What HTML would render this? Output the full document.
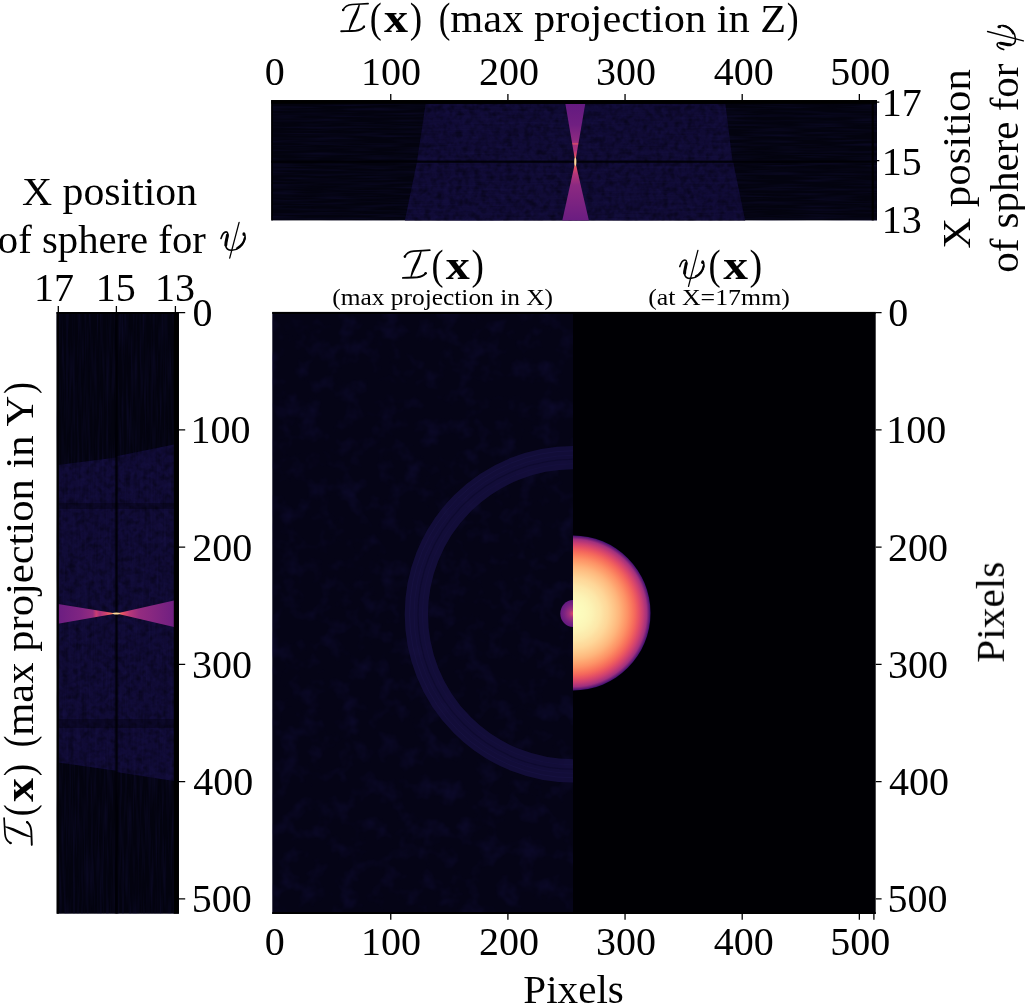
<!DOCTYPE html>
<html><head><meta charset="utf-8"><style>
html,body{margin:0;padding:0;background:#fff;overflow:hidden}
svg{display:block}
</style></head><body>
<svg width="1025" height="1003" viewBox="0 0 1025 1003">
<rect width="1025" height="1003" fill="#fff"/>
<defs><filter id="nzh" x="0" y="0" width="100%" height="100%" color-interpolation-filters="sRGB"><feTurbulence type="fractalNoise" baseFrequency="0.02 0.45" numOctaves="2" seed="3"/><feColorMatrix type="matrix" values="0 0 0 0 0.100  0 0 0 0 0.080  0 0 0 0 0.300  1.6 0 0 0 -0.62"/></filter><filter id="nzv" x="0" y="0" width="100%" height="100%" color-interpolation-filters="sRGB"><feTurbulence type="fractalNoise" baseFrequency="0.45 0.02" numOctaves="2" seed="5"/><feColorMatrix type="matrix" values="0 0 0 0 0.100  0 0 0 0 0.080  0 0 0 0 0.300  1.6 0 0 0 -0.62"/></filter><filter id="nzm" x="0" y="0" width="100%" height="100%" color-interpolation-filters="sRGB"><feTurbulence type="fractalNoise" baseFrequency="0.05 0.05" numOctaves="3" seed="7"/><feColorMatrix type="matrix" values="0 0 0 0 0.100  0 0 0 0 0.080  0 0 0 0 0.320  2.2 0 0 0 -1.05"/></filter><filter id="nzb" x="0" y="0" width="100%" height="100%" color-interpolation-filters="sRGB"><feTurbulence type="fractalNoise" baseFrequency="0.18 0.18" numOctaves="2" seed="11"/><feColorMatrix type="matrix" values="0 0 0 0 0.130  0 0 0 0 0.100  0 0 0 0 0.360  2.4 0 0 0 -1.0"/></filter><filter id="nzd" x="0" y="0" width="100%" height="100%" color-interpolation-filters="sRGB"><feTurbulence type="fractalNoise" baseFrequency="0.16 0.16" numOctaves="2" seed="13"/><feColorMatrix type="matrix" values="0 0 0 0 0.000  0 0 0 0 0.000  0 0 0 0 0.020  2.4 0 0 0 -1.0"/></filter>
<radialGradient id="sph" cx="573" cy="613" r="77.6" gradientUnits="userSpaceOnUse"><stop offset="0.000" stop-color="#fcfdbf"/>
<stop offset="0.050" stop-color="#fcfdbf"/>
<stop offset="0.100" stop-color="#fcfbbd"/>
<stop offset="0.150" stop-color="#fcf9bb"/>
<stop offset="0.200" stop-color="#fcf6b8"/>
<stop offset="0.250" stop-color="#fcf2b4"/>
<stop offset="0.300" stop-color="#fcecae"/>
<stop offset="0.350" stop-color="#fde7a9"/>
<stop offset="0.400" stop-color="#fddea0"/>
<stop offset="0.450" stop-color="#fed799"/>
<stop offset="0.500" stop-color="#fecc8f"/>
<stop offset="0.550" stop-color="#fec185"/>
<stop offset="0.600" stop-color="#feb47b"/>
<stop offset="0.650" stop-color="#fea36f"/>
<stop offset="0.700" stop-color="#fd9266"/>
<stop offset="0.750" stop-color="#fa7d5e"/>
<stop offset="0.800" stop-color="#f4675c"/>
<stop offset="0.850" stop-color="#e55064"/>
<stop offset="0.900" stop-color="#ca3e72"/>
<stop offset="0.950" stop-color="#a1307e"/>
<stop offset="1.000" stop-color="#3b0f70"/></radialGradient>
<radialGradient id="spot" cx="573" cy="613.5" r="13" gradientUnits="userSpaceOnUse">
 <stop offset="0" stop-color="#de4968"/><stop offset="0.3" stop-color="#a1307e"/><stop offset="0.7" stop-color="#782281"/><stop offset="1" stop-color="#641a80"/></radialGradient>
<linearGradient id="bowv" x1="0" y1="104" x2="0" y2="220" gradientUnits="userSpaceOnUse">
 <stop offset="0" stop-color="#701f81"/><stop offset="0.35" stop-color="#942c80"/><stop offset="0.45" stop-color="#ca3e72"/><stop offset="0.5" stop-color="#fde7a9"/><stop offset="0.55" stop-color="#ca3e72"/><stop offset="0.65" stop-color="#942c80"/><stop offset="1" stop-color="#701f81"/></linearGradient>
<linearGradient id="bowh" x1="58" y1="0" x2="174" y2="0" gradientUnits="userSpaceOnUse">
 <stop offset="0" stop-color="#701f81"/><stop offset="0.3" stop-color="#942c80"/><stop offset="0.45" stop-color="#de4968"/><stop offset="0.5" stop-color="#fde7a9"/><stop offset="0.55" stop-color="#de4968"/><stop offset="0.7" stop-color="#942c80"/><stop offset="1" stop-color="#701f81"/></linearGradient>
<linearGradient id="bowv2" x1="0" y1="104" x2="0" y2="220" gradientUnits="userSpaceOnUse"><stop offset="0.000" stop-color="#641a80"/><stop offset="0.180" stop-color="#701f81"/><stop offset="0.310" stop-color="#8c2981"/><stop offset="0.335" stop-color="#a1307e"/><stop offset="0.343" stop-color="#e44f64"/><stop offset="0.355" stop-color="#a1307e"/><stop offset="0.400" stop-color="#aa337d"/><stop offset="0.440" stop-color="#de4968"/><stop offset="0.475" stop-color="#fe9f6d"/><stop offset="0.497" stop-color="#fcf0b2"/><stop offset="0.520" stop-color="#fe9f6d"/><stop offset="0.550" stop-color="#e44f64"/><stop offset="0.600" stop-color="#b73779"/><stop offset="0.700" stop-color="#8c2981"/><stop offset="1.000" stop-color="#6b1d81"/></linearGradient><linearGradient id="bowh2" x1="58" y1="0" x2="174" y2="0" gradientUnits="userSpaceOnUse"><stop offset="0.000" stop-color="#6b1d81"/><stop offset="0.200" stop-color="#802582"/><stop offset="0.300" stop-color="#942c80"/><stop offset="0.330" stop-color="#ca3e72"/><stop offset="0.360" stop-color="#aa337d"/><stop offset="0.420" stop-color="#d6456c"/><stop offset="0.460" stop-color="#f9795d"/><stop offset="0.490" stop-color="#fecf92"/><stop offset="0.500" stop-color="#fcf4b6"/><stop offset="0.520" stop-color="#fe9f6d"/><stop offset="0.560" stop-color="#e44f64"/><stop offset="0.620" stop-color="#b73779"/><stop offset="0.700" stop-color="#942c80"/><stop offset="1.000" stop-color="#701f81"/></linearGradient><g id="psi" fill="none" stroke="#000" stroke-linecap="round"><path d="M0.3,-11.8 C1.6,-16 3.6,-18.4 5.4,-18.4 C7.6,-18.4 7.4,-15.2 6.5,-12.2 C5.6,-9.2 4.8,-6.8 5.0,-4.6 C5.4,-1.4 8,0 11,0 C17,0 21.8,-4.5 23.8,-10 C24.6,-12.5 24.6,-14.8 23.6,-16.4" stroke-width="1.6"/><path d="M16.5,-2.2 C20.5,-4.3 23.3,-8 24.1,-12.3" stroke-width="2.1"/><path d="M6.7,-15 C6.3,-11.5 5,-8.5 5.1,-5.2" stroke-width="3.0"/><path d="M18.4,-28 L9.0,7.9" stroke-width="1.3"/><ellipse cx="23.2" cy="-16.2" rx="1.5" ry="1.9" fill="#000" stroke="none"/></g><g id="calI"><path d="M2.3,-21.8 C4,-25.6 7,-27.2 11.5,-27.5 C17,-27.8 22,-28.1 27.4,-28.4" fill="none" stroke="#000" stroke-width="1.7" stroke-linecap="round"/><circle cx="2.5" cy="-22.0" r="1.25" fill="#000"/><path d="M18.33,-27.98 L17.58,-26.38 L16.87,-24.75 L16.15,-23.13 L15.41,-21.52 L14.65,-19.91 L13.87,-18.32 L13.08,-16.72 L12.30,-15.13 L11.54,-13.52 L10.84,-11.90 L10.19,-10.25 L9.61,-8.57 L9.11,-6.87 L8.68,-5.13 L8.31,-3.37 L8.03,-1.58 L8.97,-1.22 L9.72,-2.82 L10.43,-4.45 L11.15,-6.07 L11.89,-7.68 L12.65,-9.29 L13.43,-10.88 L14.22,-12.48 L15.00,-14.07 L15.76,-15.68 L16.46,-17.30 L17.11,-18.95 L17.69,-20.63 L18.19,-22.33 L18.62,-24.07 L18.99,-25.83 L19.27,-27.62Z" fill="#000"/><path d="M0.5,-0.7 C6,-0.9 11,-1.0 15,-1.3 C19,-1.7 21.6,-3.1 23.4,-5.4" fill="none" stroke="#000" stroke-width="1.9" stroke-linecap="round"/><circle cx="23.2" cy="-5.3" r="1.2" fill="#000"/></g></defs>
<rect x="271.3" y="100.1" width="605.7" height="120.3" fill="#03030f"/>
<polygon points="425.6,104 725.4,104 732.6,161.6 417.0,161.6" fill="#100b34"/>
<polygon points="417.0,161.6 733.1,161.6 745.2,220.4 404.9,220.4" fill="#100b34"/>
<clipPath id="cbt"><polygon points="425.6,104 725.4,104 732.6,161.6 417.0,161.6"/><polygon points="417.0,161.6 733.1,161.6 745.2,220.4 404.9,220.4"/></clipPath>
<g clip-path="url(#cbt)"><rect x="400" y="104" width="350" height="117" filter="url(#nzb)" opacity="0.2"/><rect x="400" y="104" width="350" height="117" filter="url(#nzd)" opacity="0.45"/></g>
<rect x="271.3" y="104.0" width="605.7" height="116.4" filter="url(#nzh)" opacity="0.4"/>
<rect x="271.3" y="160.6" width="605.7" height="2.2" fill="#000004" opacity="0.85"/>
<rect x="271.3" y="100.1" width="605.7" height="3.6" fill="#000000"/>
<polygon points="565.4,104 585.2,104 575.3,161.7" fill="url(#bowv2)"/>
<polygon points="575.3,161.7 588.9,220.4 562.3,220.4" fill="url(#bowv2)"/>
<ellipse cx="575.3" cy="161.7" rx="1.1" ry="4" fill="#fed89a"/>
<rect x="871.7" y="100.1" width="2.1" height="120.3" fill="#000"/>
<rect x="271.3" y="100.1" width="1.5" height="120.3" fill="#000"/>
<rect x="56.7" y="312.0" width="122.2" height="601.7" fill="#03030f"/>
<polygon points="58,465 116.4,457.6 116.4,770.8 58,762.5" fill="#100b34"/>
<polygon points="116.4,456.2 174,444.6 174,781 116.4,772" fill="#100b34"/>
<clipPath id="cbl"><polygon points="58,465 116.4,457.6 116.4,770.8 58,762.5"/><polygon points="116.4,456.2 174,444.6 174,781 116.4,772"/></clipPath>
<g clip-path="url(#cbl)"><rect x="56" y="440" width="120" height="345" filter="url(#nzb)" opacity="0.2"/><rect x="56" y="440" width="120" height="345" filter="url(#nzd)" opacity="0.45"/></g>
<rect x="56.7" y="312.0" width="122.2" height="601.7" filter="url(#nzv)" opacity="0.4"/>
<rect x="115.4" y="312" width="2.2" height="601.7" fill="#000004" opacity="0.7"/>
<rect x="114.6" y="312" width="3.8" height="601.7" fill="#000004" opacity="0.25"/>
<rect x="58" y="503" width="116" height="6" fill="#000004" opacity="0.3"/>
<rect x="58" y="719" width="116" height="9" fill="#000004" opacity="0.3"/>
<polygon points="58,603.9 116.3,613.5 58,623.7" fill="url(#bowh2)"/>
<polygon points="174,600.5 116.3,613.5 174,627.1" fill="url(#bowh2)"/>
<ellipse cx="116.3" cy="613.5" rx="3.5" ry="1.1" fill="#fed89a"/>
<rect x="173.8" y="312" width="5.1" height="601.7" fill="#000"/>
<rect x="56.7" y="312" width="2.2" height="601.7" fill="#000"/>
<rect x="56.7" y="312" width="122.2" height="2" fill="#000"/>
<rect x="272.3" y="312" width="300.7" height="602" fill="#050416"/>
<rect x="272.3" y="312" width="300.7" height="602" filter="url(#nzm)" opacity="0.35"/>
<path d="M573,457.65 A156.65,156.65 0 0 0 573,770.95" fill="none" stroke="#150f3e" stroke-width="23.30" opacity="0.85"/>
<path d="M573,450.80 A163.50,163.50 0 0 0 573,777.80" fill="none" stroke="#1a1348" stroke-width="1.00" opacity="0.50"/>
<path d="M573,455.30 A159.00,159.00 0 0 0 573,773.30" fill="none" stroke="#1a1348" stroke-width="0.80" opacity="0.45"/>
<path d="M573,459.30 A155.00,155.00 0 0 0 573,769.30" fill="none" stroke="#0a0826" stroke-width="1.10" opacity="0.50"/>
<path d="M573,463.80 A150.50,150.50 0 0 0 573,764.80" fill="none" stroke="#1a1348" stroke-width="0.80" opacity="0.40"/>
<path d="M573,600 A12.7,13.5 0 0 0 573,627 Z" fill="url(#spot)"/>
<rect x="573" y="312" width="302.7" height="602" fill="#000004"/>
<path d="M573,535.4 A77.6,77.6 0 0 1 573,690.6 Z" fill="url(#sph)"/>
<rect x="272.3" y="311.9" width="603.4" height="2.1" fill="#000"/>
<rect x="272.3" y="912" width="603.4" height="2" fill="#000"/>
<path d="M178.9,312.70H185.2 M875.7,312.70H881.6 M390.75,94V100.1 M390.75,914V919.7 M178.9,429.95H185.2 M875.7,429.95H881.6 M507.90,94V100.1 M507.90,914V919.7 M178.9,547.20H185.2 M875.7,547.20H881.6 M625.05,94V100.1 M625.05,914V919.7 M178.9,664.45H185.2 M875.7,664.45H881.6 M742.20,94V100.1 M742.20,914V919.7 M178.9,781.70H185.2 M875.7,781.70H881.6 M859.35,94V100.1 M859.35,914V919.7 M178.9,898.95H185.2 M875.7,898.95H881.6 M873.9,914V919.7 M877,102.10H879.3 M877,160.60H879.3 M58.30,306V312 M116.40,306V312 M175.40,306V312" stroke="#000" stroke-width="1.3" fill="none"/>
<g style="font-family:'Liberation Serif',serif" fill="#000" opacity="0.999"><text x="264.80" y="85.00" font-size="40">0</text>
<text x="264.80" y="954.60" font-size="40">0</text>
<text x="888.30" y="326.20" font-size="40">0</text>
<text x="192.50" y="326.20" font-size="40">0</text>
<text x="360.95" y="85.00" font-size="40">100</text>
<text x="360.95" y="954.60" font-size="40">100</text>
<text x="886.30" y="443.45" font-size="40">100</text>
<text x="190.50" y="443.45" font-size="40">100</text>
<text x="479.00" y="85.00" font-size="40">200</text>
<text x="479.00" y="954.60" font-size="40">200</text>
<text x="888.10" y="560.70" font-size="40">200</text>
<text x="192.30" y="560.70" font-size="40">200</text>
<text x="596.05" y="85.00" font-size="40">300</text>
<text x="596.05" y="954.60" font-size="40">300</text>
<text x="887.90" y="677.95" font-size="40">300</text>
<text x="192.10" y="677.95" font-size="40">300</text>
<text x="713.75" y="85.00" font-size="40">400</text>
<text x="713.75" y="954.60" font-size="40">400</text>
<text x="889.00" y="795.20" font-size="40">400</text>
<text x="193.20" y="795.20" font-size="40">400</text>
<text x="830.15" y="85.00" font-size="40">500</text>
<text x="830.15" y="954.60" font-size="40">500</text>
<text x="887.50" y="912.45" font-size="40">500</text>
<text x="191.70" y="912.45" font-size="40">500</text>
<text x="881.70" y="116.10" font-size="40">17</text>
<text x="881.70" y="174.60" font-size="40">15</text>
<text x="881.70" y="232.60" font-size="40">13</text>
<text x="33.95" y="300.60" font-size="40">17</text>
<text x="95.85" y="300.60" font-size="40">15</text>
<text x="154.90" y="300.60" font-size="40">13</text>
<use href="#calI" transform="translate(340.70,32.00) scale(1.000)"/>
<text transform="translate(369.87,32.00) scale(0.9029,1.0630)" font-size="40" xml:space="preserve">(</text>
<text transform="translate(384.08,32.00) scale(1.2030,1.0000)" font-size="40" font-weight="bold" xml:space="preserve">x</text>
<text transform="translate(409.79,32.00) scale(0.9320,1.0630)" font-size="40" xml:space="preserve">)</text>
<text transform="translate(438.81,32.00) scale(0.8738,1.0630)" font-size="40" xml:space="preserve">(</text>
<text transform="translate(450.35,32.00) scale(1.0615,1.0000)" font-size="40" xml:space="preserve">max projection in Z</text>
<text transform="translate(786.64,32.00) scale(0.8932,1.0630)" font-size="40" xml:space="preserve">)</text>
<use href="#calI" transform="translate(32.50,845.40) rotate(-90) scale(1.000)"/>
<text transform="translate(32.50,816.23) rotate(-90) scale(0.9029,1.0630)" font-size="40" xml:space="preserve">(</text>
<text transform="translate(32.50,802.02) rotate(-90) scale(1.2030,1.0000)" font-size="40" font-weight="bold" xml:space="preserve">x</text>
<text transform="translate(32.50,776.31) rotate(-90) scale(0.9320,1.0630)" font-size="40" xml:space="preserve">)</text>
<text transform="translate(32.50,747.29) rotate(-90) scale(0.8738,1.0630)" font-size="40" xml:space="preserve">(</text>
<text transform="translate(32.50,735.75) rotate(-90) scale(1.0645,1.0000)" font-size="40" xml:space="preserve">max projection in Y</text>
<text transform="translate(32.50,394.06) rotate(-90) scale(0.8932,1.0630)" font-size="40" xml:space="preserve">)</text>
<use href="#calI" transform="translate(402.40,278.60) scale(1.000)"/>
<text transform="translate(431.57,278.60) scale(0.9029,1.0630)" font-size="40" xml:space="preserve">(</text>
<text transform="translate(445.78,278.60) scale(1.2030,1.0000)" font-size="40" font-weight="bold" xml:space="preserve">x</text>
<text transform="translate(471.49,278.60) scale(0.9320,1.0630)" font-size="40" xml:space="preserve">)</text>
<text transform="translate(332.32,304.80) scale(1.1047,1.0000)" font-size="23" xml:space="preserve">(max projection in X)</text>
<use href="#psi" transform="translate(679.50,278.40)"/>
<text transform="translate(708.55,278.60) scale(0.9126,1.0630)" font-size="40" xml:space="preserve">(</text>
<text transform="translate(723.28,278.60) scale(1.2386,1.0000)" font-size="40" font-weight="bold" xml:space="preserve">x</text>
<text transform="translate(749.46,278.60) scale(0.9515,1.0630)" font-size="40" xml:space="preserve">)</text>
<text transform="translate(648.20,304.80) scale(1.1242,1.0000)" font-size="23" xml:space="preserve">(at X=17mm)</text>
<text transform="translate(21.96,204.80) scale(1.0445,1.0000)" font-size="40" xml:space="preserve">X position</text>
<text transform="translate(-2.13,252.60) scale(1.0178,1.0000)" font-size="40" xml:space="preserve">of sphere for</text>
<use href="#psi" transform="translate(220.70,250.30)"/>
<text transform="translate(969.90,248.76) rotate(-90) scale(1.0704,1.0000)" font-size="40" xml:space="preserve">X position</text>
<text transform="translate(1017.80,272.74) rotate(-90) scale(1.0242,1.0000)" font-size="40" xml:space="preserve">of sphere for</text>
<use href="#psi" transform="translate(1015.50,49.90) rotate(-90)"/>
<text transform="translate(523.27,1003.20) scale(1.0284,1.0000)" font-size="40" xml:space="preserve">Pixels</text>
<text transform="translate(1003.90,662.74) rotate(-90) scale(1.0347,1.0000)" font-size="40" xml:space="preserve">Pixels</text></g>
</svg>
</body></html>
